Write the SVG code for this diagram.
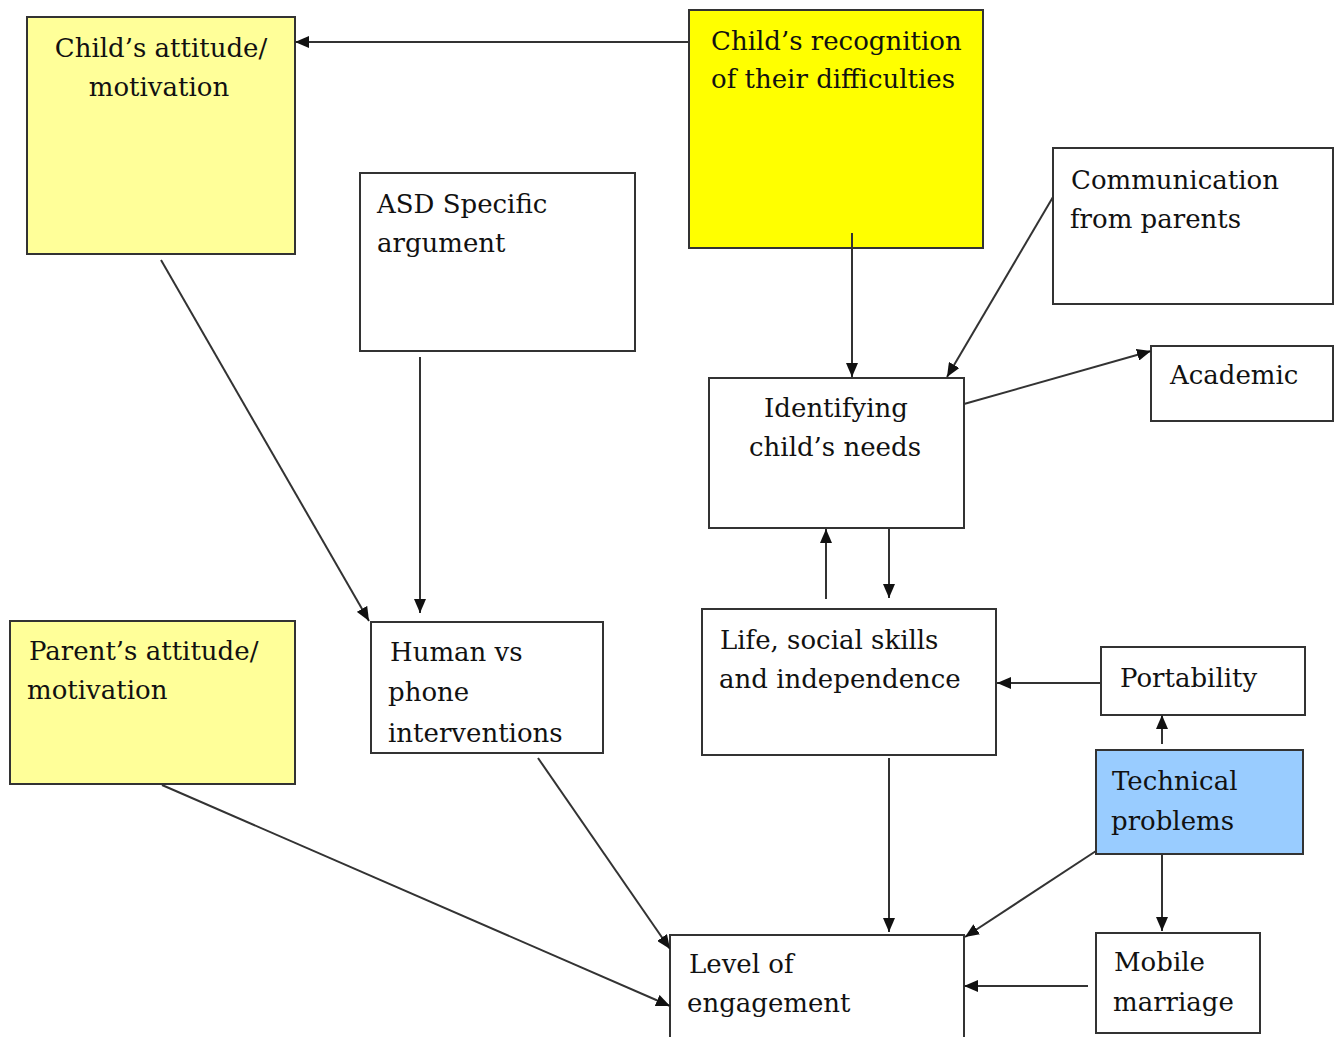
<svg xmlns="http://www.w3.org/2000/svg" width="1340" height="1037" viewBox="0 0 1340 1037">
<style>
  .box { stroke: #333; stroke-width: 2; fill: #fff; }
  .ly { fill: #FFFF99; }
  .yy { fill: #FFFF00; }
  .bl { fill: #99CCFF; }
  text { font-family: "DejaVu Serif", "Liberation Serif", serif; font-size: 26px; fill: #111; }
  .c { text-anchor: middle; }
  .conn line { stroke: #333; stroke-width: 2; marker-end: url(#ah); }
</style>
<defs>
  <marker id="ah" markerUnits="userSpaceOnUse" markerWidth="14" markerHeight="12" refX="14" refY="6" orient="auto">
    <path d="M0,0 L14,6 L0,12 z" fill="#111"/>
  </marker>
</defs>
<rect width="1340" height="1037" fill="#fff"/>

<g id="n-child-attitude">
  <rect class="box ly" x="27" y="17" width="268" height="237"/>
  <text class="c" x="161" y="57">Child’s attitude/</text>
  <text class="c" x="159" y="96">motivation</text>
</g>
<g id="n-child-recognition">
  <rect class="box yy" x="689" y="10" width="294" height="238"/>
  <text x="711" y="50">Child’s recognition</text>
  <text x="711" y="88">of their difficulties</text>
</g>
<g id="n-asd">
  <rect class="box" x="360" y="173" width="275" height="178"/>
  <text x="377" y="213">ASD Specific</text>
  <text x="377" y="252">argument</text>
</g>
<g id="n-communication">
  <rect class="box" x="1053" y="148" width="280" height="156"/>
  <text x="1071" y="189">Communication</text>
  <text x="1070" y="228">from parents</text>
</g>
<g id="n-academic">
  <rect class="box" x="1151" y="346" width="182" height="75"/>
  <text x="1170" y="384">Academic</text>
</g>
<g id="n-identifying">
  <rect class="box" x="709" y="378" width="255" height="150"/>
  <text class="c" x="836" y="417">Identifying</text>
  <text class="c" x="835" y="456">child’s needs</text>
</g>
<g id="n-life">
  <rect class="box" x="702" y="609" width="294" height="146"/>
  <text x="720" y="649">Life, social skills</text>
  <text x="719" y="688">and independence</text>
</g>
<g id="n-portability">
  <rect class="box" x="1101" y="647" width="204" height="68"/>
  <text x="1120" y="687">Portability</text>
</g>
<g id="n-technical">
  <rect class="box bl" x="1096" y="750" width="207" height="104"/>
  <text x="1112" y="790">Technical</text>
  <text x="1111" y="830">problems</text>
</g>
<g id="n-mobile">
  <rect class="box" x="1096" y="933" width="164" height="100"/>
  <text x="1114" y="971">Mobile</text>
  <text x="1113" y="1011">marriage</text>
</g>
<g id="n-level">
  <rect class="box" x="670" y="935" width="294" height="120"/>
  <text x="689" y="973">Level of</text>
  <text x="687" y="1012">engagement</text>
</g>
<g id="n-human">
  <rect class="box" x="371" y="622" width="232" height="131"/>
  <text x="390" y="661">Human vs</text>
  <text x="388" y="701">phone</text>
  <text x="388" y="742">interventions</text>
</g>
<g id="n-parent">
  <rect class="box ly" x="10" y="621" width="285" height="163"/>
  <text x="29" y="660">Parent’s attitude/</text>
  <text x="27" y="699">motivation</text>
</g>

<g id="connectors" class="conn">
  <line x1="689" y1="42" x2="295" y2="42"/>
  <line x1="161" y1="260" x2="369" y2="621"/>
  <line x1="420" y1="357" x2="420" y2="613"/>
  <line x1="852" y1="233" x2="852" y2="377"/>
  <line x1="1053" y1="197" x2="947" y2="377"/>
  <line x1="964" y1="404" x2="1151" y2="351"/>
  <line x1="826" y1="599" x2="826" y2="529"/>
  <line x1="889" y1="529" x2="889" y2="598"/>
  <line x1="1101" y1="683" x2="997" y2="683"/>
  <line x1="1162" y1="744" x2="1162" y2="715"/>
  <line x1="1162" y1="854" x2="1162" y2="931"/>
  <line x1="1096" y1="851" x2="965" y2="937"/>
  <line x1="889" y1="758" x2="889" y2="932"/>
  <line x1="1088" y1="986" x2="964" y2="986"/>
  <line x1="538" y1="758" x2="670" y2="949"/>
  <line x1="162" y1="785" x2="670" y2="1006"/>
</g>
</svg>
